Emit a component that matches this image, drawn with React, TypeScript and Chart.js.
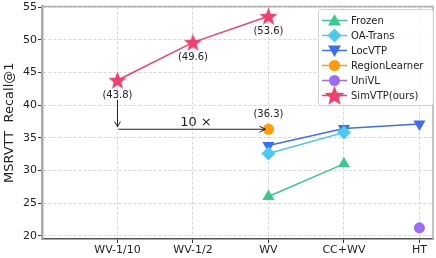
import React, { useEffect, useRef } from "react";
import { Chart, registerables } from "chart.js";

Chart.register(...registerables);

const categories = ["WV-1/10", "WV-1/2", "WV", "CC+WV", "HT"];
const frozen: (number | null)[] = [null, null, 26.0, 31.0, null];
const oaTrans: (number | null)[] = [null, null, 32.6, 35.8, null];
const locVTP: (number | null)[] = [null, null, 33.8, 36.4, 37.1];
const regionLearner: (number | null)[] = [null, null, 36.3, null, null];
const uniVL: (number | null)[] = [null, null, null, null, 21.2];
const simVTP: (number | null)[] = [43.8, 49.6, 53.6, null, null];
const yTicks = [20, 25, 30, 35, 40, 45, 50, 55];

const FONT = "'DejaVu Sans', sans-serif";

const COLORS = {
  frozen: "#3cc98f",
  oa: "#4cc9f0",
  loc: "#3f6df0",
  region: "#ff9a08",
  univl: "#9b6cf5",
  sim: "#f2406e",
};

function makeStar(r: number, color: string): HTMLCanvasElement {
  const c = document.createElement("canvas");
  const s = Math.ceil(r * 2 + 2);
  c.width = s;
  c.height = s;
  const ctx = c.getContext("2d")!;
  ctx.fillStyle = color;
  ctx.beginPath();
  const cx = s / 2, cy = s / 2 + r * 0.08;
  const ri = r * 0.42;
  for (let i = 0; i < 10; i++) {
    const rr = i % 2 === 0 ? r : ri;
    const a = -Math.PI / 2 + (i * Math.PI) / 5;
    const x = cx + rr * Math.cos(a);
    const y = cy + rr * Math.sin(a);
    if (i === 0) ctx.moveTo(x, y);
    else ctx.lineTo(x, y);
  }
  ctx.closePath();
  ctx.fill();
  return c;
}

function toPts(arr: (number | null)[]) {
  const out: { x: number; y: number }[] = [];
  arr.forEach((v, i) => {
    if (v !== null) out.push({ x: i, y: v });
  });
  return out;
}

function zeroPad(s: any) {
  s.paddingTop = 0;
  s.paddingBottom = 0;
  s.paddingLeft = 0;
  s.paddingRight = 0;
}

export default function App() {
  const ref = useRef<HTMLCanvasElement>(null);
  useEffect(() => {
    document.body.style.margin = "0";
    const star = makeStar(9.5, COLORS.sim);
    const starLegend = makeStar(10.5, COLORS.sim);

    const legendItems = [
      { label: "Frozen", color: COLORS.frozen, shape: "tri" },
      { label: "OA-Trans", color: COLORS.oa, shape: "dia" },
      { label: "LocVTP", color: COLORS.loc, shape: "tridown" },
      { label: "RegionLearner", color: COLORS.region, shape: "circle" },
      { label: "UniVL", color: COLORS.univl, shape: "circle" },
      { label: "SimVTP(ours)", color: COLORS.sim, shape: "star" },
    ];

    const annot = {
      id: "annot",
      afterDatasetsDraw(chart: any) {
        const ctx = chart.ctx as CanvasRenderingContext2D;
        const xs = chart.scales.x;
        const ys = chart.scales.y;
        const ca = chart.chartArea;
        ctx.save();
        // top & right spines
        ctx.strokeStyle = "#b0b0b0";
        ctx.lineWidth = 1.5;
        ctx.beginPath();
        ctx.moveTo(ca.left, ca.top);
        ctx.lineTo(ca.right, ca.top);
        ctx.lineTo(ca.right, ca.bottom);
        ctx.stroke();

        // value labels
        ctx.fillStyle = "#222";
        ctx.font = `10px ${FONT}`;
        ctx.textAlign = "center";
        ctx.textBaseline = "middle";
        simVTP.forEach((v, i) => {
          if (v === null) return;
          ctx.fillText(`(${v.toFixed(1)})`, xs.getPixelForValue(i), ys.getPixelForValue(v) + 15);
        });
        const rv = regionLearner[2] as number;
        ctx.fillText(`(${rv.toFixed(1)})`, xs.getPixelForValue(2), ys.getPixelForValue(rv) - 15);

        // arrows
        ctx.strokeStyle = "#222";
        ctx.lineWidth = 1;
        const ax = xs.getPixelForValue(0);
        const yTop = ys.getPixelForValue(40.8);
        const yBot = ys.getPixelForValue(36.7);
        ctx.beginPath();
        ctx.moveTo(ax, yTop);
        ctx.lineTo(ax, yBot);
        ctx.moveTo(ax - 3, yBot - 5);
        ctx.lineTo(ax, yBot);
        ctx.lineTo(ax + 3, yBot - 5);
        ctx.stroke();
        const hy = ys.getPixelForValue(36.3);
        const hx0 = ax + 1;
        const hx1 = xs.getPixelForValue(2) - 3;
        ctx.beginPath();
        ctx.moveTo(hx0, hy);
        ctx.lineTo(hx1, hy);
        ctx.moveTo(hx1 - 6, hy - 3);
        ctx.lineTo(hx1, hy);
        ctx.lineTo(hx1 - 6, hy + 3);
        ctx.stroke();
        ctx.font = `13px ${FONT}`;
        ctx.fillStyle = "#222";
        ctx.fillText("10 ×", (hx0 + hx1) / 2 + 4, hy - 7);

        // legend
        const lx = 318, ly = 9, lw = 115, lh = 96;
        ctx.fillStyle = "rgba(255,255,255,0.85)";
        ctx.strokeStyle = "#d0d0d0";
        ctx.lineWidth = 1;
        ctx.beginPath();
        (ctx as any).roundRect(lx + 0.5, ly + 0.5, lw, lh, 3);
        ctx.fill();
        ctx.stroke();
        legendItems.forEach((it, k) => {
          const cy = 20.5 + k * 15;
          ctx.strokeStyle = it.color;
          ctx.lineWidth = 1.5;
          ctx.beginPath();
          ctx.moveTo(322, cy);
          ctx.lineTo(347, cy);
          ctx.stroke();
          const cx = 334.5;
          ctx.fillStyle = it.color;
          ctx.beginPath();
          if (it.shape === "tri") {
            ctx.moveTo(cx, cy - 6.5);
            ctx.lineTo(cx + 6.5, cy + 5);
            ctx.lineTo(cx - 6.5, cy + 5);
            ctx.closePath();
            ctx.fill();
          } else if (it.shape === "tridown") {
            ctx.moveTo(cx, cy + 6.5);
            ctx.lineTo(cx + 6.5, cy - 5);
            ctx.lineTo(cx - 6.5, cy - 5);
            ctx.closePath();
            ctx.fill();
          } else if (it.shape === "dia") {
            ctx.moveTo(cx, cy - 7);
            ctx.lineTo(cx + 7, cy);
            ctx.lineTo(cx, cy + 7);
            ctx.lineTo(cx - 7, cy);
            ctx.closePath();
            ctx.fill();
          } else if (it.shape === "circle") {
            ctx.arc(cx, cy, 5.5, 0, Math.PI * 2);
            ctx.fill();
          } else {
            ctx.drawImage(starLegend, cx - starLegend.width / 2, cy - starLegend.height / 2);
          }
          ctx.fillStyle = "#222";
          ctx.font = `10px ${FONT}`;
          ctx.textAlign = "left";
          ctx.fillText(it.label, 351, cy + 0.5);
        });
        ctx.restore();
      },
    };

    const ds = (label: string, arr: (number | null)[], color: string, pointStyle: any, radius: number, rotation = 0) => ({
      label,
      data: toPts(arr),
      borderColor: color,
      backgroundColor: color,
      borderWidth: 1.5,
      pointStyle,
      pointRadius: radius,
      pointRotation: rotation,
      pointBorderWidth: 0,
      pointHoverRadius: radius,
      showLine: true,
      tension: 0,
    });

    const chart = new Chart(ref.current!, {
      type: "line",
      data: {
        datasets: [
          ds("Frozen", frozen, COLORS.frozen, "triangle", 7),
          ds("OA-Trans", oaTrans, COLORS.oa, "rectRot", 7),
          ds("LocVTP", locVTP, COLORS.loc, "triangle", 7, 180),
          ds("RegionLearner", regionLearner, COLORS.region, "circle", 5.5),
          ds("UniVL", uniVL, COLORS.univl, "circle", 5.5),
          ds("SimVTP(ours)", simVTP, COLORS.sim, star, 10),
        ] as any,
      },
      options: {
        responsive: false,
        animation: false,
        layout: { autoPadding: false, padding: { top: 6.5, right: 3, left: 2, bottom: 0 } },
        plugins: { legend: { display: false }, tooltip: { enabled: false } },
        scales: {
          x: {
            type: "linear",
            min: -1,
            max: 4.18,
            afterBuildTicks: (s: any) => {
              s.ticks = categories.map((_, i) => ({ value: i }));
            },
            afterFit: (s: any) => {
              s.height = 19;
              zeroPad(s);
            },
            ticks: {
              callback: (v: any) => categories[v as number] ?? "",
              color: "#222",
              font: { family: FONT, size: 11 },
              padding: 1,
              maxRotation: 0,
              autoSkip: false,
            },
            grid: {
              color: "#cccccc",
              lineWidth: 0.8,
              tickColor: "#333",
              tickLength: 4,
              tickWidth: 1,
            },
            border: { color: "#555", width: 1.5, dash: [3, 2] },
          },
          y: {
            type: "linear",
            min: 19.49,
            max: 55.1,
            afterBuildTicks: (s: any) => {
              s.ticks = yTicks.map((v) => ({ value: v }));
            },
            afterFit: (s: any) => {
              s.width = 40;
              zeroPad(s);
            },
            ticks: {
              color: "#222",
              font: { family: FONT, size: 11 },
              padding: 1,
            },
            grid: {
              color: "#cccccc",
              lineWidth: 0.8,
              tickColor: "#333",
              tickLength: 4,
              tickWidth: 1,
            },
            border: { color: "#a8a8a8", width: 2.5, dash: [3, 2] },
            title: {
              display: true,
              text: "MSRVTT  Recall@1",
              color: "#222",
              font: { family: FONT, size: 13 },
              padding: 0,
            },
          },
        },
      },
      plugins: [annot],
    });
    return () => chart.destroy();
  }, []);
  return <canvas ref={ref} width={436} height={258} style={{ display: "block" }} />;
}
